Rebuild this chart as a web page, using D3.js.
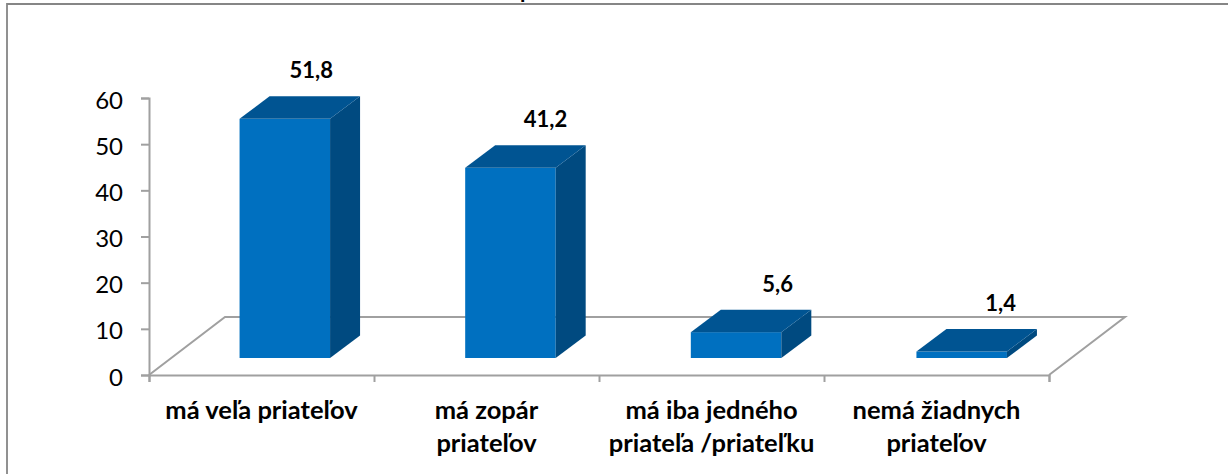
<!DOCTYPE html>
<meta charset="utf-8">
<script src="https://cdn.jsdelivr.net/npm/d3@7/dist/d3.min.js"></script>
<style>
body { margin: 0; background: #fff; }
text { font-family: Lato, sans-serif; fill: #000; }
</style>
<body>
<svg width="1228" height="474"></svg>
<script>
var categories = [['má veľa priateľov'], ['má zopár', 'priateľov'], ['má iba jedného', 'priateľa /priateľku'], ['nemá žiadnych', 'priateľov']];
var values = [51.8, 41.2, 5.6, 1.4];
var valueLabels = ['51,8', '41,2', '5,6', '1,4'];
var yTicks = [0, 10, 20, 30, 40, 50, 60];

var svg = d3.select('svg');
var x = d3.scaleBand().domain(d3.range(categories.length)).range([149, 1049]);
var xBar = d3.scaleBand().domain(d3.range(categories.length)).range([149, 1051.5]);
var y = d3.scaleLinear().domain([0, 60]).range([375, 98]);
var floorDx = 76, floorDy = -58;      // depth of the floor
var barW = 90.5, barDx = 30, barDy = -22.5;
var startDx = 23, startDy = -17;
var labelDx = [26.5, 35, 41.5, 39];   // labels were dragged by hand in the original
var axisColor = '#a0a0a0';

// frame, cut by the page on the right and at the bottom
svg.append('path')
    .attr('d', 'M7,474V4H1228')
    .attr('fill', 'none').attr('stroke', '#868686').attr('stroke-width', 1.8);

// title is cropped away, only the tail of one letter is left
svg.append('text').attr('x', 520).attr('y', -2)
    .attr('font-size', 22).attr('font-weight', 700).text('p');

// floor
var x0 = x.range()[0], x1 = x.range()[1], y0 = y(0);
svg.append('path')
    .attr('d', d3.line()([[x0, y0], [x0 + floorDx, y0 + floorDy], [x1 + floorDx, y0 + floorDy], [x1, y0]]))
    .attr('fill', 'none').attr('stroke', axisColor).attr('stroke-width', 2);

// axes
var yAxis = d3.axisLeft(y).tickValues(yTicks).tickSize(8).tickPadding(18);
var yG = svg.append('g').attr('transform', 'translate(' + x0 + ',0)').call(yAxis);
yG.selectAll('path, line').attr('stroke', axisColor).attr('stroke-width', 2);
yG.selectAll('text').attr('font-size', 24).attr('font-family', 'Lato, sans-serif').attr('fill', '#000').attr('dy', '0.42em');

var xAxis = d3.axisBottom(d3.scaleLinear().domain([0, 4]).range([x0, x1])).ticks(4).tickSize(7).tickFormat('');
var xG = svg.append('g').attr('transform', 'translate(0,' + y0 + ')').call(xAxis);
xG.selectAll('path, line').attr('stroke', axisColor).attr('stroke-width', 2);

// bars
var bars = svg.selectAll('g.bar').data(values).enter().append('g').attr('class', 'bar');
function barLeft(d, i) { return xBar(i) + (xBar.bandwidth() - barW) / 2 + startDx; }
var base = y0 + startDy;
function barTop(d) { return base - (y0 - y(d)); }

bars.append('rect').attr('x', barLeft).attr('y', barTop).attr('width', barW)
    .attr('height', function(d) { return base - barTop(d); })
    .attr('fill', '#0070c0');
bars.append('path').attr('fill', '#004a80').attr('d', function(d, i) {
    var r = barLeft(d, i) + barW, t = barTop(d);
    return d3.line()([[r, t], [r + barDx, t + barDy], [r + barDx, base + barDy], [r, base]]) + 'Z';
});
bars.append('path').attr('fill', '#005492').attr('d', function(d, i) {
    var l = barLeft(d, i), t = barTop(d);
    return d3.line()([[l, t], [l + barDx, t + barDy], [l + barW + barDx, t + barDy], [l + barW, t]]) + 'Z';
});

// value labels
bars.append('text')
    .attr('x', function(d, i) { return barLeft(d, i) + barW / 2 + labelDx[i]; })
    .attr('y', function(d) { return barTop(d) + barDy - 18; })
    .attr('text-anchor', 'middle').attr('font-size', 22).attr('font-weight', 700)
    .text(function(d, i) { return valueLabels[i]; });

// category labels
var labels = svg.selectAll('text.cat').data(categories).enter().append('text')
    .attr('class', 'cat').attr('text-anchor', 'middle').attr('font-size', 25.5).attr('font-weight', 700)
    .attr('transform', function(d, i) { return 'translate(' + (x(i) + x.bandwidth() / 2) + ',419)'; });
labels.selectAll('tspan').data(function(d) { return d; }).enter().append('tspan')
    .attr('x', 0).attr('y', function(d, i) { return i * 33; })
    .text(function(d) { return d; });
</script>
